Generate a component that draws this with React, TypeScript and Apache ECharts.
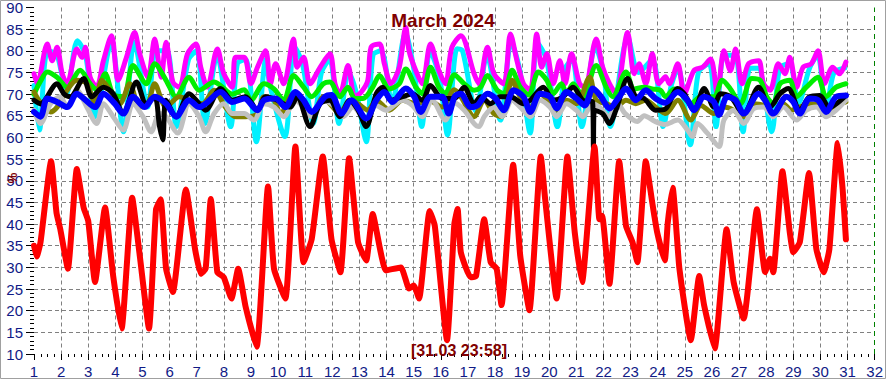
import React, { useEffect, useRef } from "react";
import * as echarts from "echarts";

const TITLE = "March 2024";
const STAMP = "[31.03 23:58]";
const UNIT = "%";

// [day, value]
const redPts = [[1.0,35],[1.1,32.5],[1.24,35.8],[1.63,54.5],[1.83,42.6],[1.97,38.8],[2.25,29.7],[2.58,52.7],[2.83,43.8],[3.0,40.7],[3.25,26.6],[3.62,43.8],[3.92,28],[4.23,15.9],[4.62,46.1],[4.9,32.7],[5.24,15.9],[5.5,43.4],[5.67,45.7],[5.87,29.7],[6.12,24.3],[6.6,48],[6.94,34.2],[7.15,28.5],[7.33,29.7],[7.52,45.8],[7.76,28.9],[8.0,27.7],[8.28,22.8],[8.53,29.7],[8.8,21],[9.21,11.7],[9.63,48.7],[9.85,29.7],[10.27,22.8],[10.64,57.9],[10.94,31.2],[11.24,36.5],[11.65,55.6],[11.97,36.5],[12.3,28.9],[12.62,55.2],[12.95,35.8],[13.25,31.6],[13.49,42.3],[13.98,29.3],[14.53,30],[14.83,25.1],[15.0,25.8],[15.2,22.8],[15.59,43],[15.78,39.6],[16.23,13.2],[16.5,40],[16.62,43.5],[16.74,33.5],[17.1,27.7],[17.3,28],[17.6,41.1],[17.84,31.2],[18.06,29.7],[18.24,21.3],[18.67,53.7],[18.93,32.7],[19.27,20.1],[19.69,55.6],[19.85,45.7],[20.27,22.8],[20.67,55.6],[20.94,38.1],[21.21,26.6],[21.67,57.9],[21.85,41.1],[21.95,41.9],[22.22,26.2],[22.58,54.5],[22.83,39.6],[23.07,35.8],[23.25,31.2],[23.56,54.5],[23.8,44.9],[23.98,38.1],[24.26,31.6],[24.37,40.3],[24.55,48.4],[24.8,29.7],[25.22,13.2],[25.53,28],[25.71,21.3],[26.1,11.3],[26.54,38.8],[26.8,26.6],[27.17,18.2],[27.66,43.4],[27.96,28.9],[28.14,32],[28.26,28.9],[28.6,52.2],[28.87,38.1],[29.0,33.5],[29.24,35.8],[29.58,51.8],[29.85,34.2],[30.12,28.9],[30.33,34.2],[30.64,58.7],[30.82,48],[30.94,36.5]];

const magentaPts = [[1.0,74.7],[1.12,72.4],[1.49,81.6],[1.67,77.7],[1.85,80.8],[2.04,74.7],[2.22,72.4],[2.58,80.4],[2.77,78.5],[2.89,80.8],[3.07,73.9],[3.31,71.6],[3.56,77.7],[3.86,83.5],[4.1,73.2],[4.41,78.5],[4.71,84.2],[4.9,79.3],[5.2,73.9],[5.45,82.7],[5.69,73.9],[5.87,82],[6.12,72.8],[6.36,71.6],[6.66,79.3],[6.97,81.6],[7.15,76.2],[7.39,71.6],[7.76,80.4],[8.0,74.7],[8.31,71.6],[8.43,78.5],[8.75,78.5],[9.0,72.4],[9.24,76.2],[9.54,80],[9.72,72.4],[9.91,77],[10.21,72.4],[10.57,82.7],[10.7,76.2],[10.94,78.5],[11.18,72.4],[11.55,76.2],[11.91,79.3],[12.1,72.4],[12.28,70],[12.58,76.6],[12.83,69.4],[13.07,70.5],[13.31,73.2],[13.43,80.8],[13.74,81.6],[13.92,77],[14.16,72.4],[14.47,76.2],[14.71,85.4],[14.83,80],[15.08,75.4],[15.32,72.4],[15.62,81.6],[15.93,75.4],[16.17,72.4],[16.41,80.8],[16.74,83.5],[17.23,74.7],[17.41,72.4],[17.72,80.8],[17.96,74.7],[18.32,72.4],[18.57,83.9],[18.81,77.7],[19.05,72.4],[19.3,70.9],[19.54,83.9],[19.72,76.2],[19.91,79.3],[20.15,72.4],[20.39,77.7],[20.58,72.4],[20.82,79.3],[21.12,72.4],[21.31,71.6],[21.73,82.7],[21.97,76.2],[22.22,72.4],[22.46,70.1],[22.89,84.2],[23.13,74.7],[23.31,77],[23.56,72.4],[23.8,79.3],[24.04,72.4],[24.29,74],[24.43,72.4],[24.74,77],[24.98,70.1],[25.34,75.5],[25.65,76.2],[25.95,78.1],[26.2,70.1],[26.44,80],[26.68,75.4],[26.87,80.4],[27.11,72.4],[27.35,77],[27.72,77.7],[27.9,72.4],[28.14,70.9],[28.45,77],[28.69,74.7],[28.87,78.5],[29.12,71.6],[29.36,76.2],[29.66,77],[29.91,80],[30.15,72.4],[30.45,76.2],[30.7,74.7],[30.94,77.4]];

const cyanPts = [[1.0,72],[1.2,61.7],[1.5,80],[1.85,79],[2.2,70],[2.6,82.3],[2.9,79],[3.25,64.8],[3.85,82],[4.3,61.3],[4.7,82],[5.2,67],[5.5,80],[5.9,80],[6.25,62.5],[6.7,78],[7.0,80],[7.3,63.2],[7.75,79],[8.25,62.5],[8.5,77],[8.8,78],[9.2,59],[9.55,78],[9.7,72],[10.25,60.2],[10.6,81],[10.9,77],[11.3,63.2],[11.6,75],[11.9,78],[12.25,63.2],[12.6,75],[12.9,70],[13.25,59],[13.5,79],[13.8,80],[14.2,68],[14.7,84],[15.0,76],[15.3,62.5],[15.6,80],[15.95,74],[16.25,60.6],[16.6,80.5],[16.8,80],[17.3,66],[17.7,79],[18.2,64],[18.6,82],[18.9,76],[19.3,61],[19.55,82],[19.9,78],[20.3,62.5],[20.6,76],[20.85,78],[21.2,62.5],[21.7,81],[22.0,75],[22.25,62.5],[22.9,83],[23.3,75],[23.8,78],[24.2,62.5],[24.5,72],[24.75,76],[25.2,58.3],[25.5,75],[25.9,77],[26.15,62.5],[26.45,79],[26.85,79],[27.15,61.3],[27.4,76],[27.7,76],[28.2,61.3],[28.5,76],[28.85,77],[29.2,68],[29.6,76],[29.9,79],[30.2,66],[30.5,75],[30.9,76]];

const greenPts = [[1.0,70],[1.24,73],[1.49,75.1],[1.85,73.9],[2.22,71.6],[2.7,75.5],[3.07,72.4],[3.31,71],[3.62,74.7],[3.92,70],[4.29,69.4],[4.65,76.6],[5.14,72.4],[5.45,77],[5.87,73.2],[6.24,69.4],[6.72,73.9],[7.09,70.9],[7.64,72.8],[7.88,72],[8.31,70],[8.75,71],[9.0,68.6],[9.48,72.4],[9.85,71.2],[10.21,68.6],[10.57,74.3],[10.94,71.6],[11.24,69.4],[11.67,72.4],[11.91,72.8],[12.28,69.4],[12.58,71.6],[12.83,69],[13.13,69],[13.49,71.6],[13.74,74.3],[14.1,71.2],[14.47,72.4],[14.71,75.8],[15.08,71.6],[15.32,70.1],[15.62,76.2],[15.93,71.6],[16.17,70.1],[16.5,74.5],[16.86,72.4],[17.23,70.9],[17.47,71.6],[17.72,74.3],[18.08,70.9],[18.32,70.1],[18.63,75.5],[18.93,71.6],[19.24,69.8],[19.6,75.1],[19.91,73.2],[20.15,70.1],[20.45,72.4],[20.64,70.1],[20.88,72.4],[21.24,69.4],[21.73,76.6],[22.1,71.6],[22.34,69.4],[22.83,75.1],[23.13,71.2],[23.5,71.6],[23.8,71.2],[24.1,70.9],[24.29,69.4],[24.61,71.2],[24.86,70.1],[25.22,67.8],[25.59,69.4],[26.07,69.4],[26.38,73.2],[26.68,71.2],[27.05,67.8],[27.47,73.6],[27.78,73.2],[28.02,69.4],[28.26,67.8],[28.51,72.4],[28.87,73.2],[29.12,69.4],[29.48,71.6],[29.91,73.9],[30.21,69.4],[30.58,71.6],[30.94,72.4]];

const olivePts = [[1.0,70.5],[1.24,68],[1.61,65.9],[1.85,67],[2.22,70.9],[2.58,73.2],[2.95,72.4],[3.25,67.8],[3.5,73.2],[3.8,70.9],[4.17,67.8],[4.53,72.4],[4.9,67],[5.2,67.8],[5.45,72.4],[5.87,67],[6.36,69.4],[6.72,68.6],[7.21,67.8],[7.64,70.9],[8.06,67],[8.43,64.8],[8.8,64.8],[9.24,65.5],[9.48,69.4],[9.85,68.6],[10.09,65.5],[10.57,70.1],[10.94,67.8],[11.24,64.8],[11.67,69.4],[11.91,67.8],[12.28,65.5],[12.64,68.6],[12.95,67.8],[13.31,66.3],[13.62,68.6],[14.1,66.3],[14.59,68.6],[15.08,67.8],[15.56,68.6],[16.05,67],[16.5,71],[16.74,69.4],[17.23,64.8],[17.6,68.6],[17.96,65.5],[18.26,64.8],[18.63,73.2],[18.93,69.4],[19.3,67],[19.66,70.1],[20.03,67.8],[20.27,66.3],[20.64,68.6],[21.0,67.8],[21.49,73.9],[21.73,68.6],[22.1,67.8],[22.46,67],[22.83,68.6],[23.19,67.8],[23.56,68.6],[23.92,67],[24.29,65.5],[24.74,68.6],[25.22,64],[25.59,67.4],[26.07,65.5],[26.44,67],[26.8,66.3],[27.17,64.8],[27.53,67.8],[27.9,67.4],[28.26,65.5],[28.63,67.8],[28.93,66.3],[29.24,67],[29.6,67.8],[29.97,67.4],[30.21,66.3],[30.58,67.4],[30.94,68.2]];

const grayPts = [[1.0,66.3],[1.24,63.2],[1.61,67.8],[1.97,69.4],[2.22,67],[2.58,70.9],[2.95,67],[3.31,63.2],[3.56,67.8],[3.92,64.8],[4.29,61.7],[4.65,67.8],[5.02,64.8],[5.32,61.3],[5.63,65.5],[5.87,64.8],[6.3,61],[6.72,67.8],[7.09,64.8],[7.33,61.3],[7.64,65.5],[8.0,67.8],[8.31,65.5],[8.75,65.5],[9.11,64],[9.48,67.8],[9.85,67],[10.21,64.8],[10.64,68.6],[10.94,67],[11.24,64.8],[11.67,68.6],[12.03,67.4],[12.4,64.8],[12.76,67],[13.25,64],[13.62,67.4],[13.98,66.3],[14.59,68.6],[14.95,67.4],[15.32,64.8],[15.68,68.6],[16.17,64],[16.5,68],[16.86,66.3],[17.23,63.2],[17.41,62.5],[17.6,64.8],[17.96,67],[18.26,64.8],[18.63,68.6],[18.93,67],[19.3,64.8],[19.66,68.6],[20.03,67],[20.27,64.8],[20.64,67.8],[21.0,66.3],[21.24,64.8],[21.6,67.8],[21.85,67],[22.2,64.8],[22.5,68],[22.8,65.5],[23.25,63.7],[23.5,65],[23.9,63.7],[24.25,63],[24.74,64],[25.1,61.7],[25.28,60.2],[25.47,63.2],[25.83,61],[26.26,57.9],[26.44,64],[26.8,66.3],[27.17,63.2],[27.53,66.6],[27.9,67],[28.26,64.8],[28.63,67],[29.12,64],[29.48,66.3],[29.85,67],[30.21,64.8],[30.58,66.3],[30.94,68.6]];

const blackPts = [[1.0,68.6],[1.24,67.8],[1.85,72.4],[2.1,70.1],[2.34,69.4],[2.83,73.6],[3.13,69.4],[3.56,71.6],[3.92,70.1],[4.29,65.5],[4.78,72.8],[5.14,67.8],[5.45,69.4],[5.63,62.5],[5.75,59.4],[5.87,68.6],[6.24,64.8],[6.72,70.1],[7.09,67.8],[7.33,66.3],[7.88,71.3],[8.31,68.6],[8.8,69.4],[9.24,66.3],[9.54,69.4],[9.97,68.6],[10.45,67],[10.7,69.4],[11.18,62.5],[11.55,67.8],[11.91,68.6],[12.28,64.8],[12.64,68.6],[12.95,66.3],[13.25,62.5],[13.62,70.1],[13.86,71.6],[14.16,68.6],[14.59,69.4],[14.95,70.1],[15.32,68.6],[15.62,72],[16.05,69],[16.5,69],[16.86,71.6],[17.23,67.8],[17.47,69.4],[17.84,67.8],[18.2,69.4],[18.57,69.4],[19.05,67.8],[19.3,68.6],[19.78,71.6],[20.15,68.6],[20.51,69.4],[20.88,71.6],[21.24,68.6],[21.6,68.2],[21.63,57.6],[21.66,66.3],[21.97,65.5],[22.22,63.2],[22.46,66.3],[22.89,73.6],[23.19,69.4],[23.5,69],[23.92,66.3],[24.27,66.5],[24.74,71.3],[24.98,70.1],[25.34,66.3],[25.71,71.3],[26.07,67],[26.32,70.1],[26.68,69.4],[27.17,65.5],[27.72,71.6],[28.14,67],[28.51,70.1],[28.81,71.3],[29.24,66.3],[29.6,69.4],[29.97,69.7],[30.33,67],[30.94,69.7]];

const bluePts = [[1.0,65.9],[1.24,64.8],[1.49,69],[1.85,68.2],[2.22,67],[2.58,70.1],[2.83,69],[3.25,67],[3.56,70.1],[3.98,67.8],[4.29,65.5],[4.65,69.4],[5.08,67],[5.45,69.4],[5.87,67.8],[6.24,64.8],[6.72,68.6],[7.09,67],[7.33,67.8],[7.88,70.5],[8.31,68.2],[8.75,69],[9.24,66.3],[9.48,68.6],[9.91,69],[10.27,67],[10.64,70.5],[10.94,68.6],[11.24,65.9],[11.73,69.4],[11.97,69.8],[12.34,65.5],[12.7,68.6],[13.25,64.4],[13.62,68.6],[13.92,70.5],[14.22,68.2],[14.71,71.3],[15.02,69.4],[15.26,65.9],[15.62,69.4],[16.05,69.4],[16.29,65.5],[16.52,69.5],[16.74,70.1],[17.1,67],[17.35,67.4],[17.72,70.1],[18.02,69],[18.32,66.3],[18.69,70.9],[19.05,69.4],[19.3,65.9],[19.66,70.1],[20.03,69.4],[20.27,66.7],[20.64,70.5],[21.0,69],[21.31,67.4],[21.61,71.3],[21.91,69.4],[22.22,66.7],[22.58,69.4],[22.83,71.3],[23.19,68.6],[23.56,70.9],[23.92,69],[24.27,68],[24.74,70.5],[25.1,68.6],[25.34,66.3],[25.71,69.4],[26.07,68.2],[26.26,65.2],[26.56,69.4],[26.87,68.6],[27.17,65.5],[27.72,70.1],[27.96,68.6],[28.26,65.5],[28.75,69.4],[29.0,68.2],[29.24,65.5],[29.6,69],[29.91,68.6],[30.21,65.9],[30.58,69.4],[30.94,69.7]];

const seriesDefs = [
  { name: "cyan", color: "#00f0ff", data: cyanPts, width: 5 },
  { name: "magenta", color: "#ff00ff", data: magentaPts, width: 5 },
  { name: "green", color: "#00ee00", data: greenPts, width: 5 },
  { name: "olive", color: "#808000", data: olivePts, width: 5 },
  { name: "gray", color: "#c0c0c0", data: grayPts, width: 5 },
  { name: "black", color: "#000000", data: blackPts, width: 5 },
  { name: "blue", color: "#0000ff", data: bluePts, width: 6 },
  { name: "red", color: "#ff0000", data: redPts, width: 6 },
];

const FONT = "'Liberation Sans', Arial, sans-serif";
const NAVY = "#101a86";

export default function App() {
  const ref = useRef<HTMLDivElement>(null);
  useEffect(() => {
    if (!ref.current) return;
    const chart = echarts.init(ref.current, null, { renderer: "svg" });
    chart.setOption({
      animation: false,
      backgroundColor: "#ffffff",
      grid: { left: 34, right: 4, top: 5, bottom: 24 },
      xAxis: {
        type: "value",
        min: 1,
        max: 32,
        interval: 1,
        axisLine: { show: false },
        axisTick: { show: true, length: 6, lineStyle: { color: "#000" } },
        minorTick: { show: true, splitNumber: 4, length: 3, lineStyle: { color: "#000" } },
        axisLabel: { color: NAVY, fontSize: 15, fontFamily: FONT, margin: 10, showMinLabel: true, showMaxLabel: true },
        splitLine: { show: true, showMinLine: false, showMaxLine: false, lineStyle: { color: "#808080", type: [4, 3], width: 1 } },
      },
      yAxis: {
        type: "value",
        min: 10,
        max: 90,
        interval: 5,
        axisLine: { show: false },
        axisTick: { show: true, length: 8, lineStyle: { color: "#000" } },
        minorTick: { show: true, splitNumber: 5, length: 4, lineStyle: { color: "#000" } },
        axisLabel: { color: NAVY, fontSize: 15, fontFamily: FONT, margin: 11 },
        splitLine: { show: true, showMinLine: false, showMaxLine: false, lineStyle: { color: "#808080", type: [4, 3], width: 1 } },
      },
      series: seriesDefs.map((s, i) => ({
        type: "line",
        name: s.name,
        data: s.data,
        showSymbol: false,
        smooth: s.name === "red" ? 0.15 : 0.3,
        z: 2 + i,
        lineStyle: { color: s.color, width: s.width, join: "round", cap: "round" },
        markLine: s.name === "red" ? {
          silent: true,
          symbol: "none",
          label: { show: false },
          lineStyle: { color: "#008000", type: [5, 4], width: 1 },
          data: [{ xAxis: 32 }],
        } : undefined,
      })),
      graphic: [
        {
          type: "rect",
          shape: { x: 0.5, y: 0.5, width: 885, height: 378 },
          style: { fill: "none", stroke: "#a0a0a0", lineWidth: 1 },
          z: 100,
        },
        {
          type: "text",
          x: 443,
          y: 20,
          style: { text: TITLE, fill: "#800000", font: `bold 19px ${FONT}`, textAlign: "center", textVerticalAlign: "middle" },
          z: 100,
        },
        {
          type: "text",
          x: 459,
          y: 350,
          style: { text: STAMP, fill: "#800000", font: `bold 16px ${FONT}`, textAlign: "center", textVerticalAlign: "middle" },
          z: 100,
        },
        {
          type: "text",
          x: 12,
          y: 178,
          rotation: -Math.PI / 2,
          style: { text: UNIT, fill: "#800000", font: `bold 12px ${FONT}`, textAlign: "center", textVerticalAlign: "middle" },
          z: 100,
        },
      ],
    });
    return () => chart.dispose();
  }, []);
  return <div ref={ref} style={{ position: "absolute", left: 0, top: 0, width: 886, height: 379 }} />;
}
